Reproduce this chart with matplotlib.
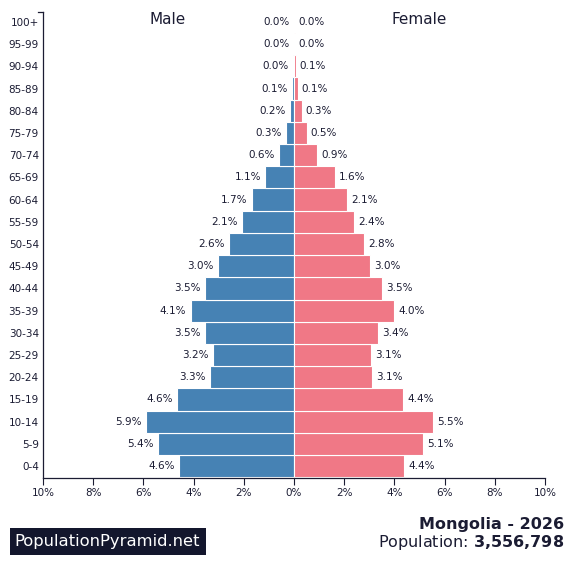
import numpy as np
import matplotlib.pyplot as plt
from matplotlib.patches import Rectangle

ages = ["0-4", "5-9", "10-14", "15-19", "20-24", "25-29", "30-34", "35-39",
        "40-44", "45-49", "50-54", "55-59", "60-64", "65-69", "70-74", "75-79",
        "80-84", "85-89", "90-94", "95-99", "100+"]
male = [4.6, 5.4, 5.9, 4.6, 3.3, 3.2, 3.5, 4.1, 3.5, 3.0, 2.6, 2.1, 1.7, 1.1,
        0.6, 0.3, 0.2, 0.1, 0.0, 0.0, 0.0]
female = [4.4, 5.1, 5.5, 4.4, 3.1, 3.1, 3.4, 4.0, 3.5, 3.0, 2.8, 2.4, 2.1, 1.6,
          0.9, 0.5, 0.3, 0.1, 0.1, 0.0, 0.0]
# bars drawn with a bit more precision than the labels
male_len = [4.58, 5.43, 5.88, 4.65, 3.35, 3.23, 3.55, 4.12, 3.55, 3.02, 2.6,
            2.08, 1.68, 1.14, 0.58, 0.3, 0.17, 0.08, 0.03, 0.01, 0.0]
female_len = [4.38, 5.14, 5.52, 4.36, 3.12, 3.07, 3.36, 3.98, 3.5, 3.02, 2.78,
              2.4, 2.1, 1.62, 0.92, 0.5, 0.3, 0.14, 0.06, 0.02, 0.0]
country = "Mongolia - 2026"
population = "3,556,798"

blue = "#4682b4"
pink = "#f07886"
ink = "#1b1c33"

fig = plt.figure(figsize=(5.75, 5.81), dpi=100)
ax = fig.add_axes([43 / 575, 1 - 478 / 581, 502 / 575, 466 / 581])

y = np.arange(len(ages))
ax.barh(y, [-v for v in male_len], height=1.0, color=blue, edgecolor="white", linewidth=0.8)
ax.barh(y, female_len, height=1.0, color=pink, edgecolor="white", linewidth=0.8)

for i in range(len(ages)):
    ax.text(-male_len[i] - 0.17, y[i], f"{male[i]:.1f}%", ha="right", va="center",
            fontsize=7.5, color=ink)
    ax.text(female_len[i] + 0.17, y[i], f"{female[i]:.1f}%", ha="left", va="center",
            fontsize=7.5, color=ink)

ax.set_xlim(-10, 10)
ax.set_ylim(-0.54, 20.45)
ticks = np.arange(-10, 11, 2)
ax.set_xticks(ticks)
ax.set_xticklabels([f"{abs(t)}%" for t in ticks], fontsize=7.5, color=ink)
ax.set_yticks(y)
ax.set_yticklabels(ages, fontsize=7.5, color=ink)
ax.tick_params(axis="y", length=0, pad=3)
ax.tick_params(axis="x", length=5, width=0.8, color=ink, pad=2)
for s in ["top", "right"]:
    ax.spines[s].set_visible(False)
for s in ["left", "bottom"]:
    ax.spines[s].set_color(ink)
    ax.spines[s].set_linewidth(0.9)
ax.plot([-10.2, -10], [20.45, 20.45], color=ink, lw=0.9, clip_on=False)

fig.text(168 / 575, 1 - 19 / 581, "Male", ha="center", va="center", fontsize=11, color=ink)
fig.text(419 / 575, 1 - 19 / 581, "Female", ha="center", va="center", fontsize=11, color=ink)

fig.text(564 / 575, 1 - 524 / 581, country, ha="right", va="center", fontsize=11.5,
         fontweight="bold", color=ink)
fig.text(564 / 575, 1 - 543 / 581, "Population: $\\bf{" + population.replace(",", "{,}") + "}$",
         ha="right", va="center", fontsize=11.5, color=ink)

fig.patches.append(Rectangle((10 / 575, 1 - 555 / 581), 196 / 575, 27 / 581,
                             transform=fig.transFigure, facecolor="#13162d",
                             edgecolor="none"))
fig.text(14 / 575, 1 - 541.5 / 581, "PopulationPyramid.net", ha="left", va="center",
         fontsize=11.8, color="white")

fig.savefig("out.png", dpi=100)
